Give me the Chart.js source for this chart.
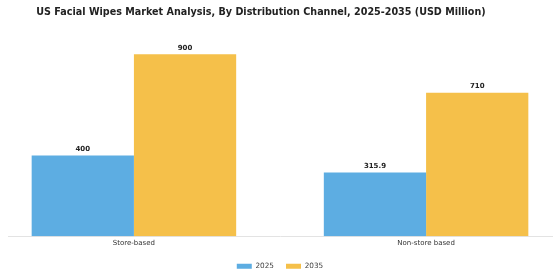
<!DOCTYPE html>
<html>
<head>
<meta charset="utf-8">
<script src="https://cdn.jsdelivr.net/npm/chart.js@4/dist/chart.umd.min.js"></script>
<style>
html,body{margin:0;padding:0;background:#fff;}
#wrap{width:560px;height:280px;position:relative;}
</style>
</head>
<body>
<div id="wrap"><canvas id="c" width="560" height="280"></canvas></div>
<script>
const categories = ['Store-based', 'Non-store based'];
const seriesNames = ['2025', '2035'];
const values2025 = [400, 315.9];
const values2035 = [900, 710];
const valueLabels2025 = ['400', '315.9'];
const valueLabels2035 = ['900', '710'];
const titleText = 'US Facial Wipes Market Analysis, By Distribution Channel, 2025-2035 (USD Million)';

const FONT = "'DejaVu Sans', sans-serif";

const barLabels = {
  id: 'barLabels',
  afterDatasetsDraw(chart) {
    const ctx = chart.ctx;
    ctx.save();
    ctx.font = "bold 7px " + FONT;
    ctx.fillStyle = '#222';
    ctx.textAlign = 'center';
    ctx.textBaseline = 'bottom';
    const labelSets = [valueLabels2025, valueLabels2035];
    chart.data.datasets.forEach((ds, di) => {
      const meta = chart.getDatasetMeta(di);
      meta.data.forEach((bar, i) => {
        ctx.fillText(labelSets[di][i], bar.x, bar.y - 3);
      });
    });
    ctx.restore();
  }
};

const titleDraw = {
  id: 'titleDraw',
  afterDraw(chart) {
    const ctx = chart.ctx;
    ctx.save();
    ctx.font = "bold 9.6px " + FONT;
    ctx.fillStyle = '#222';
    ctx.textAlign = 'center';
    ctx.textBaseline = 'middle';
    ctx.fillText(titleText, 261, 12.5);
    ctx.restore();
  }
};

new Chart(document.getElementById('c'), {
  type: 'bar',
  data: {
    datasets: [
      { label: seriesNames[0], data: values2025.map((v, i) => ({x: i, y: v})), backgroundColor: '#5DADE2', borderWidth: 0 },
      { label: seriesNames[1], data: values2035.map((v, i) => ({x: i, y: v})), backgroundColor: '#F5C04A', borderWidth: 0 }
    ]
  },
  options: {
    responsive: false,
    animation: false,
    layout: { padding: { left: 8, right: 8, top: 34, bottom: 0 } },
    categoryPercentage: 0.7,
    barPercentage: 1.0,
    scales: {
      x: {
        type: 'linear',
        offset: false,
        min: -0.431,
        max: 1.431,
        grid: { display: false, offset: false, drawTicks: false, tickLength: 0 },
        border: { display: true, color: '#e3e3e3', width: 1 },
        afterBuildTicks(scale) { scale.ticks = categories.map((c, i) => ({ value: i })); },
        ticks: {
          autoSkip: false,
          padding: 3,
          maxRotation: 0,
          color: '#333',
          font: { family: FONT, size: 7 },
          callback: (v) => categories[v] ?? ''
        }
      },
      y: { display: false, min: 0, max: 1000 }
    },
    plugins: {
      title: { display: false },
      legend: {
        position: 'bottom',
        labels: {
          boxWidth: 15,
          boxHeight: 5,
          padding: 12,
          color: '#444',
          font: { family: FONT, size: 7.3 }
        }
      },
      tooltip: { enabled: false }
    }
  },
  plugins: [barLabels, titleDraw]
});
</script>
</body>
</html>
